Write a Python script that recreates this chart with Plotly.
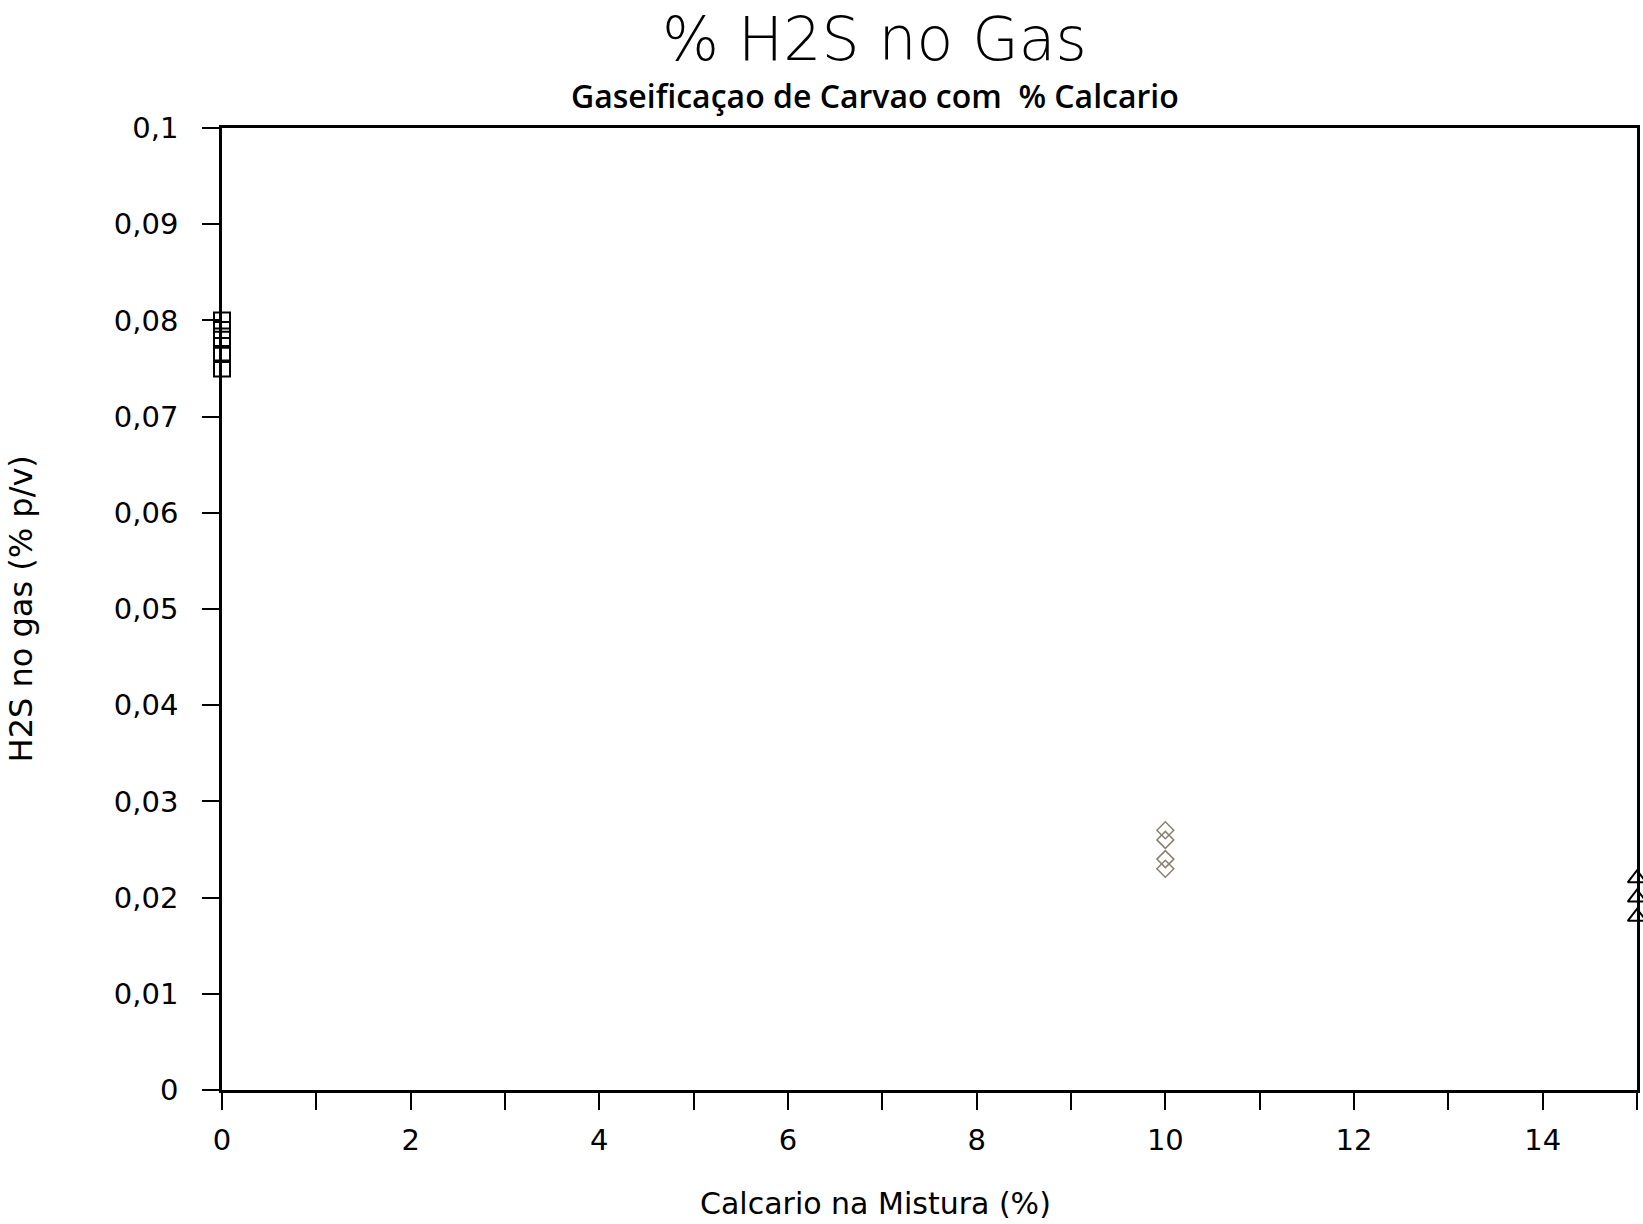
import plotly.graph_objects as go

# Data
x_sq = [0, 0, 0, 0, 0]
y_sq = [0.080, 0.079, 0.078, 0.0765, 0.075]
x_di = [10, 10, 10, 10]
y_di = [0.027, 0.026, 0.024, 0.023]
x_tr = [15, 15, 15]
y_tr = [0.022, 0.020, 0.018]

y_tickvals = [0, 0.01, 0.02, 0.03, 0.04, 0.05, 0.06, 0.07, 0.08, 0.09, 0.1]
y_ticktext = ["0", "0,01", "0,02", "0,03", "0,04", "0,05", "0,06", "0,07", "0,08", "0,09", "0,1"]
x_tickvals = list(range(0, 16))
x_ticktext = ["0", "", "2", "", "4", "", "6", "", "8", "", "10", "", "12", "", "14", ""]

W, H = 1643, 1224
L, R, T, B = 222, 3, 128, 134
PW, PH = W - L - R, H - T - B

font = "DejaVu Sans"

fig = go.Figure()
fig.add_trace(go.Scatter(x=x_sq, y=y_sq, mode="markers", cliponaxis=False,
                         marker=dict(symbol="square-open", size=16, color="black", line=dict(width=2))))
fig.add_trace(go.Scatter(x=x_di, y=y_di, mode="markers", cliponaxis=False,
                         marker=dict(symbol="diamond-open", size=13, color="#8a8070", line=dict(width=1.5))))
fig.add_trace(go.Scatter(x=x_tr, y=y_tr, mode="markers", cliponaxis=False,
                         marker=dict(symbol="triangle-up-open", size=16, color="black", line=dict(width=2))))

fig.update_layout(
    width=W, height=H,
    margin=dict(l=L, r=R, t=T, b=B),
    paper_bgcolor="white", plot_bgcolor="white",
    showlegend=False,
    font=dict(family=font, color="black", size=29),
    annotations=[
        dict(text="% H2S no Gas", xref="paper", yref="paper",
             x=(876 - L) / PW, y=1 + (T - 39) / PH,
             xanchor="center", yanchor="middle", showarrow=False,
             font=dict(family=font, size=60, color="black", weight=200)),
        dict(text="Gaseificaçao de Carvao com  % Calcario", xref="paper", yref="paper",
             x=(876 - L) / PW, y=1 + (T - 95) / PH,
             xanchor="center", yanchor="middle", showarrow=False,
             font=dict(family="Open Sans", size=32, color="black", weight=600)),
        dict(text="Calcario na Mistura (%)", xref="paper", yref="paper",
             x=(877 - L) / PW, y=-(1203 - (H - B)) / PH,
             xanchor="center", yanchor="middle", showarrow=False,
             font=dict(family=font, size=30, color="black")),
        dict(text="H2S no gas (% p/v)", xref="paper", yref="paper", textangle=-90,
             x=-(L - 21) / PW, y=0.5,
             xanchor="center", yanchor="middle", showarrow=False,
             font=dict(family=font, size=32, color="black")),
    ],
)

fig.update_xaxes(range=[0, 15], tickvals=x_tickvals, ticktext=x_ticktext,
                 ticks="outside", ticklen=17, tickwidth=2, tickcolor="black",
                 showline=True, linewidth=2.5, linecolor="black", mirror=True,
                 showgrid=False, zeroline=False, ticklabelstandoff=5,
                 tickfont=dict(family=font, size=29, color="black"))
fig.update_yaxes(range=[0, 0.1], tickvals=y_tickvals, ticktext=y_ticktext,
                 ticks="outside", ticklen=17, tickwidth=2, tickcolor="black",
                 showline=True, linewidth=2.5, linecolor="black", mirror=True,
                 showgrid=False, zeroline=False, ticklabelstandoff=18,
                 tickfont=dict(family=font, size=29, color="black"))

fig.write_html("out.html", config={"displayModeBar": False},
               post_script="document.body.style.margin='0';document.body.style.overflow='hidden';")
